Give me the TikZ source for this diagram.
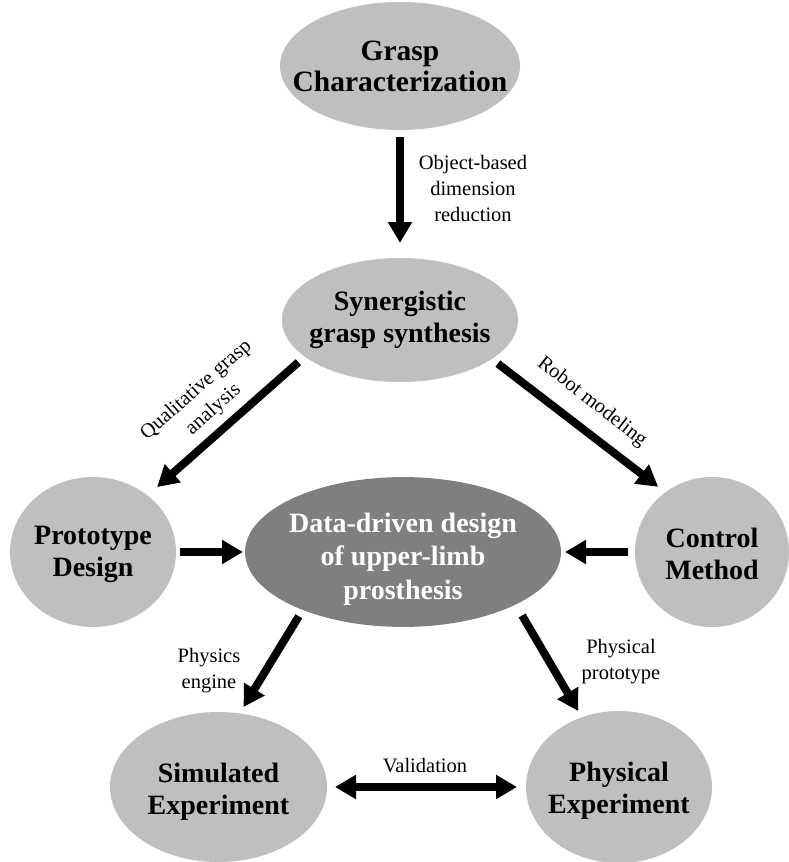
\documentclass[tikz,border=0pt]{standalone}
\usepackage{fontspec}
\setmainfont{Liberation Serif}[BoldFont={Liberation Serif Bold}]
\usepackage{tikz}
\usetikzlibrary{shapes.geometric,arrows.meta}
\tikzset{>={Triangle[length=21pt,width=23pt]}}
\definecolor{blobgray}{RGB}{191,191,191}
\definecolor{coregray}{RGB}{127,127,127}

\begin{document}
\begin{tikzpicture}[x=1pt,y=-1pt,
	blob/.style={ellipse,fill=blobgray,inner xsep=-40pt,inner ysep=0pt,outer sep=0pt,align=center,font=\bfseries\fontsize{28}{32}\selectfont},
	coreblob/.style={blob,fill=coregray,text=white,font=\bfseries\fontsize{28}{33.5}\selectfont},
	flow/.style={->,line width=8pt},
	lbl/.style={align=center,font=\fontsize{20.5}{26}\selectfont}]
			\path[use as bounding box] (0,0) rectangle (789,862);
			\clip (0,0) rectangle (789,862);
			\node[blob,minimum width=240pt,minimum height=128pt,font=\bfseries\fontsize{29.5}{31}\selectfont] (grasp) at (400,66) {Grasp\\Characterization};
			\node[blob,minimum width=236pt,minimum height=124pt] (synth) at (400,320) {Synergistic\\grasp synthesis};
			\node[blob,minimum width=166pt,minimum height=150pt] (proto) at (93,552) {\rule{0pt}{24pt}Prototype\\Design};
			\node[coreblob,minimum width=316pt,minimum height=148pt] (core) at (403,552) {\rule{0pt}{33pt}Data-driven design\\of upper-limb\\prosthesis};
			\node[blob,minimum width=154pt,minimum height=150pt] (ctrl) at (712,552) {\rule{0pt}{24pt}Control\\Method};
			\node[blob,minimum width=217pt,minimum height=150pt] (simexp) at (218.5,787) {\rule{0pt}{28pt}Simulated\\Experiment};
			\node[blob,minimum width=186pt,minimum height=152pt] (physexp) at (619,787) {\rule{0pt}{26pt}Physical\\Experiment};
			\draw[flow,shorten <=7pt,shorten >=15pt] (grasp) -- (synth);
			\draw[flow,shorten <=8.5pt,shorten >=12.7pt] (synth.201) -- (proto.46);
			\draw[flow,shorten <=7.6pt,shorten >=9.1pt] (synth.337) -- (ctrl.128);
			\draw[flow,shorten <=4pt,shorten >=2pt] (proto) -- (core);
			\draw[flow,shorten <=7pt,shorten >=4pt] (ctrl) -- (core);
			\draw[flow,shorten <=7.5pt,shorten >=7.5pt] (core.210) -- (simexp.74);
			\draw[flow,shorten <=12.7pt,shorten >=7.2pt] (core.335) -- (physexp.118);
			\draw[flow,<->,shorten <=8pt,shorten >=9pt] (simexp) -- (physexp);
			\node[lbl] (lblreduce) at (473,188) {Object-based\\dimension\\reduction};
			\node[lbl,rotate=41.6] (lblanalysis) at (205,400) {Qualitative grasp\\analysis};
			\node[lbl,rotate=-38] (lblmodel) at (592,402) {Robot modeling};
			\node[lbl] (lblengine) at (209,671) {Physics\\engine};
			\node[lbl] (lblproto) at (621,662) {Physical\\prototype};
			\node[lbl] (lblvalid) at (425,766) {Validation};
			\end{tikzpicture}
\end{document}
